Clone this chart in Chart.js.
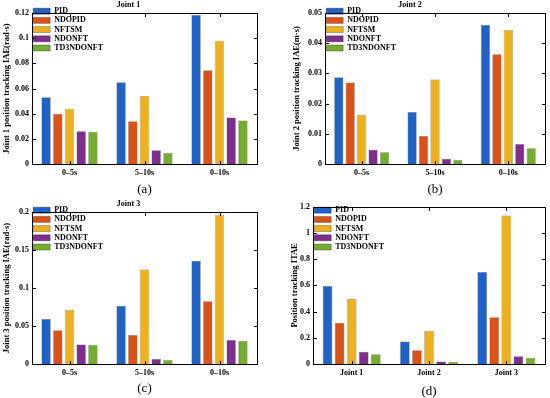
<!DOCTYPE html>
<html>
<head>
<meta charset="utf-8">
<script src="https://cdn.jsdelivr.net/npm/chart.js@4.4.0/dist/chart.umd.min.js"></script>
<style>
  body { margin: 0; background: #fff; }
  .cell { position: absolute; width: 275px; height: 199px; }
  .cell canvas { display: block; }
  .frame { position: absolute; box-sizing: border-box; border: 1px solid #000; pointer-events: none; }
</style>
</head>
<body>
<div class="cell" style="left:0;top:0"><canvas id="chartA" width="275" height="199"></canvas></div>
<div class="cell" style="left:275px;top:0"><canvas id="chartB" width="275" height="199"></canvas></div>
<div class="cell" style="left:0;top:199px"><canvas id="chartC" width="275" height="199"></canvas></div>
<div class="cell" style="left:275px;top:199px"><canvas id="chartD" width="275" height="199"></canvas></div>
<script>
const methods = ['PID', 'NDOPID', 'NFTSM', 'NDONFT', 'TD3NDONFT'];
const methodColors = ['#2062C6', '#D95319', '#EDB120', '#7E2F8E', '#77AC30'];
const periods = ['0–5s', '5–10s', '0–10s'];
const joints = ['Joint 1', 'Joint 2', 'Joint 3'];

// rows follow methods, columns follow periods (or joints for ITAE)
const joint1IAE = [
    [0.053, 0.065, 0.1185],
    [0.040, 0.034, 0.0745],
    [0.044, 0.054, 0.098],
    [0.026, 0.011, 0.037],
    [0.0257, 0.0087, 0.0345]
];
const joint2IAE = [
    [0.0287, 0.0172, 0.046],
    [0.027, 0.0093, 0.0363],
    [0.0162, 0.028, 0.0444],
    [0.0047, 0.0017, 0.0066],
    [0.0039, 0.0013, 0.0052]
];
const joint3IAE = [
    [0.0593, 0.0765, 0.1358],
    [0.0444, 0.0382, 0.0826],
    [0.0712, 0.1244, 0.1965],
    [0.0255, 0.0066, 0.0316],
    [0.025, 0.0053, 0.0303]
];
const jointITAE = [
    [0.595, 0.171, 0.703],
    [0.314, 0.105, 0.357],
    [0.497, 0.251, 1.133],
    [0.093, 0.02, 0.06],
    [0.075, 0.015, 0.048]
];

Chart.defaults.font.family = "'Liberation Serif', 'Times New Roman', serif";
Chart.defaults.color = '#000';

const serifBold = size => ({ family: "'Liberation Serif', serif", size: size, weight: 'bold' });

// matlab "box on" frame with short inward ticks
const axesBox = {
    id: 'axesBox',
    afterDraw(chart) {
        const ctx = chart.ctx;
        const a = chart.chartArea;
        const xs = chart.scales.x, ys = chart.scales.y;
        const L = Math.round(a.left), R = Math.round(a.right);
        const T = Math.round(a.top), B = Math.round(a.bottom);
        ctx.save();
        ctx.fillStyle = '#000';
        ctx.fillRect(L, T, R - L + 1, 1);
        ctx.fillRect(L, B, R - L + 1, 1);
        ctx.fillRect(L, T, 1, B - T + 1);
        ctx.fillRect(R, T, 1, B - T + 1);
        ys.ticks.forEach(t => {
            const y = Math.round(ys.getPixelForValue(t.value));
            ctx.fillRect(L, y, 4, 1);
            ctx.fillRect(R - 3, y, 4, 1);
        });
        chart.data.labels.forEach((lab, i) => {
            const x = Math.round(xs.getPixelForValue(i));
            ctx.fillRect(x, T, 1, 4);
            ctx.fillRect(x, B - 3, 1, 4);
        });
        ctx.restore();
    }
};

function makeChart(id, cfg) {
    const datasets = methods.map((m, i) => ({
        label: m,
        data: cfg.values[i],
        backgroundColor: methodColors[i],
        borderColor: 'rgba(0,0,0,0.55)',
        borderWidth: 0.5,
        categoryPercentage: 0.78,
        barPercentage: 0.8
    }));
    const chart = new Chart(document.getElementById(id), {
        type: 'bar',
        data: { labels: cfg.labels, datasets: datasets },
        options: {
            responsive: false,
            animation: false,
            layout: { padding: { top: cfg.padTop, right: cfg.padRight, left: 0, bottom: 0 } },
            plugins: {
                title: {
                    display: !!cfg.title,
                    text: cfg.title,
                    font: serifBold(8),
                    color: '#000',
                    padding: { top: 0.5, bottom: 2.9 }
                },
                legend: {
                    position: 'chartArea',
                    align: 'start',
                    // empty title only used as a spacer above the entries
                    title: { display: true, text: ' ', font: { size: 1, lineHeight: 1 }, padding: { top: 5, bottom: 0 } },
                    labels: {
                        boxWidth: 17,
                        boxHeight: 6,
                        padding: 1.2,
                        font: serifBold(8),
                        color: '#000'
                    }
                },
                tooltip: { enabled: false }
            },
            scales: {
                x: {
                    grid: { display: false, drawTicks: false },
                    border: { display: false },
                    ticks: { font: serifBold(8), padding: 4, color: '#000' },
                    title: {
                        display: true,
                        text: cfg.tag,
                        font: { family: "'Liberation Serif', serif", size: 13, lineHeight: 1 },
                        color: '#000',
                        padding: { top: 0, bottom: cfg.tagPad }
                    },
                    afterFit: s => { s.height = cfg.xHeight; }
                },
                y: {
                    min: 0,
                    max: cfg.max,
                    grid: { display: false, drawTicks: false },
                    border: { display: false },
                    ticks: {
                        stepSize: cfg.step,
                        font: serifBold(8),
                        padding: 3,
                        color: '#000',
                        callback: v => String(+v.toFixed(3))
                    },
                    title: {
                        display: true,
                        text: cfg.yTitle,
                        font: serifBold(8.5),
                        color: '#000',
                        padding: { top: cfg.yTitlePad, bottom: 0 }
                    },
                    afterFit: s => { s.width = cfg.yWidth; }
                }
            }
        },
        plugins: [axesBox]
    });
    // outline of the plot area, placed from the chart's own layout
    const a = chart.chartArea;
    const frame = document.createElement('div');
    frame.className = 'frame';
    frame.style.left = Math.round(a.left) + 'px';
    frame.style.top = Math.round(a.top) + 'px';
    frame.style.width = (Math.round(a.right) - Math.round(a.left) + 1) + 'px';
    frame.style.height = (Math.round(a.bottom) - Math.round(a.top) + 1) + 'px';
    chart.canvas.parentNode.appendChild(frame);
    return chart;
}

makeChart('chartA', {
    labels: periods, values: joint1IAE, title: 'Joint 1', tag: '(a)',
    yTitle: 'Joint 1 position tracking IAE(rad·s)', max: 0.12, step: 0.02,
    padTop: 0, padRight: 18, yWidth: 32, yTitlePad: 1.6, xHeight: 35, tagPad: 2.5
});
makeChart('chartB', {
    labels: periods, values: joint2IAE, title: 'Joint 2', tag: '(b)',
    yTitle: 'Joint 2 position tracking IAE(m·s)', max: 0.05, step: 0.01,
    padTop: 0, padRight: 5, yWidth: 50, yTitlePad: 17, xHeight: 35, tagPad: 2.5
});
makeChart('chartC', {
    labels: periods, values: joint3IAE, title: 'Joint 3', tag: '(c)',
    yTitle: 'Joint 3 position tracking IAE(rad·s)', max: 0.2, step: 0.05,
    padTop: 0, padRight: 18, yWidth: 32, yTitlePad: 1.6, xHeight: 34, tagPad: 2.5
});
makeChart('chartD', {
    labels: joints, values: jointITAE, title: '', tag: '(d)',
    yTitle: 'Position tracking ITAE', max: 1.2, step: 0.2,
    padTop: 6, padRight: 5, yWidth: 38, yTitlePad: 15, xHeight: 34, tagPad: 0
});
</script>
</body>
</html>
